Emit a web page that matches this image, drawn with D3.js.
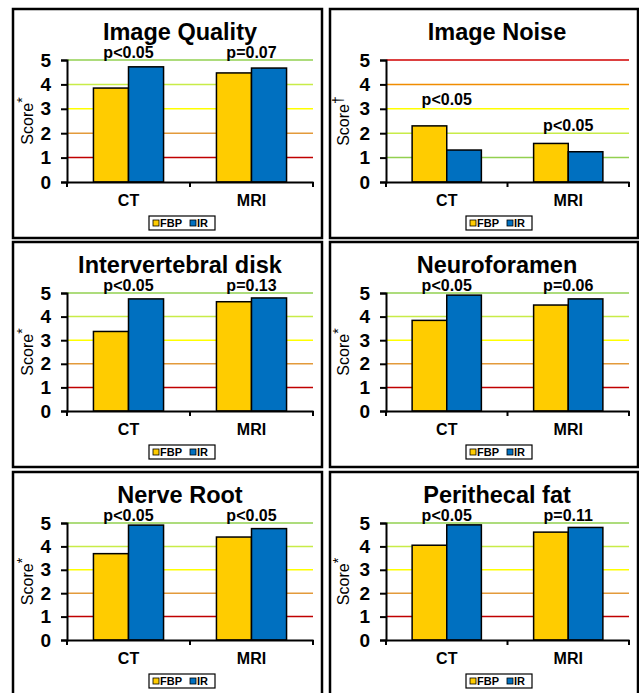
<!DOCTYPE html>
<html>
<head>
<meta charset="utf-8">
<script src="https://cdn.jsdelivr.net/npm/d3@7"></script>
<style>
  body { margin: 0; background: #fff; }
  text { font-family: "Liberation Sans", Arial, sans-serif; }
</style>
</head>
<body>
<div id="chart"></div>
<script>
// data
const categories = ["CT", "MRI"];
const series = ["FBP", "IR"];
const titles = ["Image Quality", "Image Noise", "Intervertebral disk", "Neuroforamen", "Nerve Root", "Perithecal fat"];
const fbp = [[3.85, 4.47], [2.30, 1.58], [3.37, 4.63], [3.84, 4.49], [3.69, 4.40], [4.05, 4.61]];
const ir  = [[4.72, 4.67], [1.31, 1.24], [4.75, 4.79], [4.91, 4.75], [4.91, 4.76], [4.92, 4.81]];
const pLabels = [["p<0.05", "p=0.07"], ["p<0.05", "p<0.05"], ["p<0.05", "p=0.13"],
                 ["p<0.05", "p=0.06"], ["p<0.05", "p<0.05"], ["p<0.05", "p=0.11"]];
// height (score units) where each p label sits
const pAt = [[5.08, 5.08], [3.17, 2.09], [5.08, 5.08], [5.08, 5.08], [5.08, 5.08], [5.08, 5.08]];
const scoreMarks = ["*", "\u2020", "*", "*", "*", "*"];
const yTicks = [0, 1, 2, 3, 4, 5];

// gridline colours for scores 1..5 (noise panel uses the reverse)
const gridGood = ["#C00000", "#E39A3B", "#FFFF00", "#C8EC48", "#92D050"];
const gridNoise = ["#92D050", "#C8EC48", "#FFFF00", "#F08C00", "#D00000"];
const barColors = {FBP: "#FFCC00", IR: "#0070C0"};

const W = 639, H = 693;
const colX = [13, 330], colW = [309, 308];
const rowY = [9, 242, 472], rowH = [229, 225, 224];

const svg = d3.select("#chart").append("svg")
  .attr("width", W).attr("height", H);
svg.append("rect").attr("width", W).attr("height", H).attr("fill", "#fff");

titles.forEach((title, k) => {
  const c = k % 2, r = Math.floor(k / 2);
  const L = colX[c], T = rowY[r], pw = colW[c], ph = rowH[r];
  const g = svg.append("g").attr("transform", `translate(${L},${T})`);

  g.append("rect")
    .attr("x", 0).attr("y", 0).attr("width", pw).attr("height", ph)
    .attr("fill", "#fff").attr("stroke", "#000").attr("stroke-width", 2.5);

  const left = c == 0 ? 54 : 56, right = pw - 9;
  const top = 51, bottom = ph - 56;

  const y = d3.scaleLinear().domain([0, 5]).range([bottom, top]);
  const x0 = d3.scaleBand().domain(categories).range([left, right]);
  const bw = x0.bandwidth();
  const x1 = d3.scaleBand().domain(series).range([bw * 0.215, bw * 0.785]);

  // title
  g.append("text")
    .attr("x", 167).attr("y", 31)
    .attr("text-anchor", "middle")
    .style("font-size", "23.5px").style("font-weight", "bold")
    .text(title);

  // coloured gridlines
  const gc = k == 1 ? gridNoise : gridGood;
  g.append("g").selectAll("line")
    .data(yTicks.slice(1)).enter()
    .append("line")
    .attr("x1", left).attr("x2", right)
    .attr("y1", d => y(d)).attr("y2", d => y(d))
    .attr("stroke", d => gc[d - 1])
    .attr("stroke-width", 1.5);

  // bars
  const rows = categories.map((cat, i) => ({cat: cat, FBP: fbp[k][i], IR: ir[k][i]}));
  g.append("g").selectAll("g")
    .data(rows).enter()
    .append("g")
    .attr("transform", d => `translate(${x0(d.cat)},0)`)
    .selectAll("rect")
    .data(d => series.map(s => ({s: s, v: d[s]}))).enter()
    .append("rect")
    .attr("x", d => x1(d.s))
    .attr("width", x1.bandwidth())
    .attr("y", d => y(d.v))
    .attr("height", d => y(0) - y(d.v))
    .attr("fill", d => barColors[d.s])
    .attr("stroke", "#000")
    .attr("stroke-width", 1.5);

  // y axis
  const ya = g.append("g")
    .attr("transform", `translate(${left},0)`)
    .call(d3.axisLeft(y).tickValues(yTicks).tickFormat(d3.format("d")).tickSize(6).tickPadding(10));
  ya.select(".domain").attr("stroke-width", 2);
  ya.selectAll(".tick line").attr("stroke-width", 2);
  ya.selectAll("text")
    .style("font-size", "19px").style("font-weight", "bold")
    .style("font-family", "'Liberation Sans', Arial, sans-serif");

  // x axis
  const xa = g.append("g")
    .attr("transform", `translate(0,${bottom})`)
    .call(d3.axisBottom(x0).tickSize(0).tickPadding(13));
  xa.select(".domain").attr("stroke-width", 2);
  xa.selectAll("text")
    .style("font-size", "16px").style("font-weight", "bold")
    .style("font-family", "'Liberation Sans', Arial, sans-serif");
  // category separator ticks
  g.append("g").selectAll("line")
    .data([left, left + bw, right]).enter()
    .append("line")
    .attr("x1", d => d).attr("x2", d => d)
    .attr("y1", bottom).attr("y2", bottom + 5)
    .attr("stroke", "#000").attr("stroke-width", 2);

  // y title
  const yt = g.append("text")
    .attr("transform", `translate(${c == 0 ? 20 : 19},${(top + bottom) / 2}) rotate(-90)`)
    .attr("text-anchor", "middle")
    .style("font-size", "16px");
  yt.append("tspan").text("Score");
  yt.append("tspan").attr("dy", -6).style("font-size", "14px").text(scoreMarks[k]);

  // p-values
  g.append("g").selectAll("text")
    .data(categories).enter()
    .append("text")
    .attr("x", d => x0(d) + bw / 2)
    .attr("y", (d, i) => y(pAt[k][i]))
    .attr("text-anchor", "middle")
    .style("font-size", "16px").style("font-weight", "bold")
    .text((d, i) => pLabels[k][i]);

  // legend
  const lg = g.append("g").attr("transform", `translate(${169 - 33},${bottom + 34})`);
  lg.append("rect").attr("width", 66).attr("height", 14)
    .attr("fill", "#fff").attr("stroke", "#000").attr("stroke-width", 1.2);
  const li = lg.selectAll("g").data(series).enter().append("g")
    .attr("transform", (d, i) => `translate(${i == 0 ? 4 : 41},0)`);
  li.append("rect").attr("x", 0).attr("y", 4).attr("width", 6).attr("height", 6)
    .attr("fill", d => barColors[d]).attr("stroke", "#000").attr("stroke-width", 0.8);
  li.append("text").attr("x", 7).attr("y", 11)
    .style("font-size", "11px").style("font-weight", "bold")
    .text(d => d);
});
</script>
</body>
</html>
